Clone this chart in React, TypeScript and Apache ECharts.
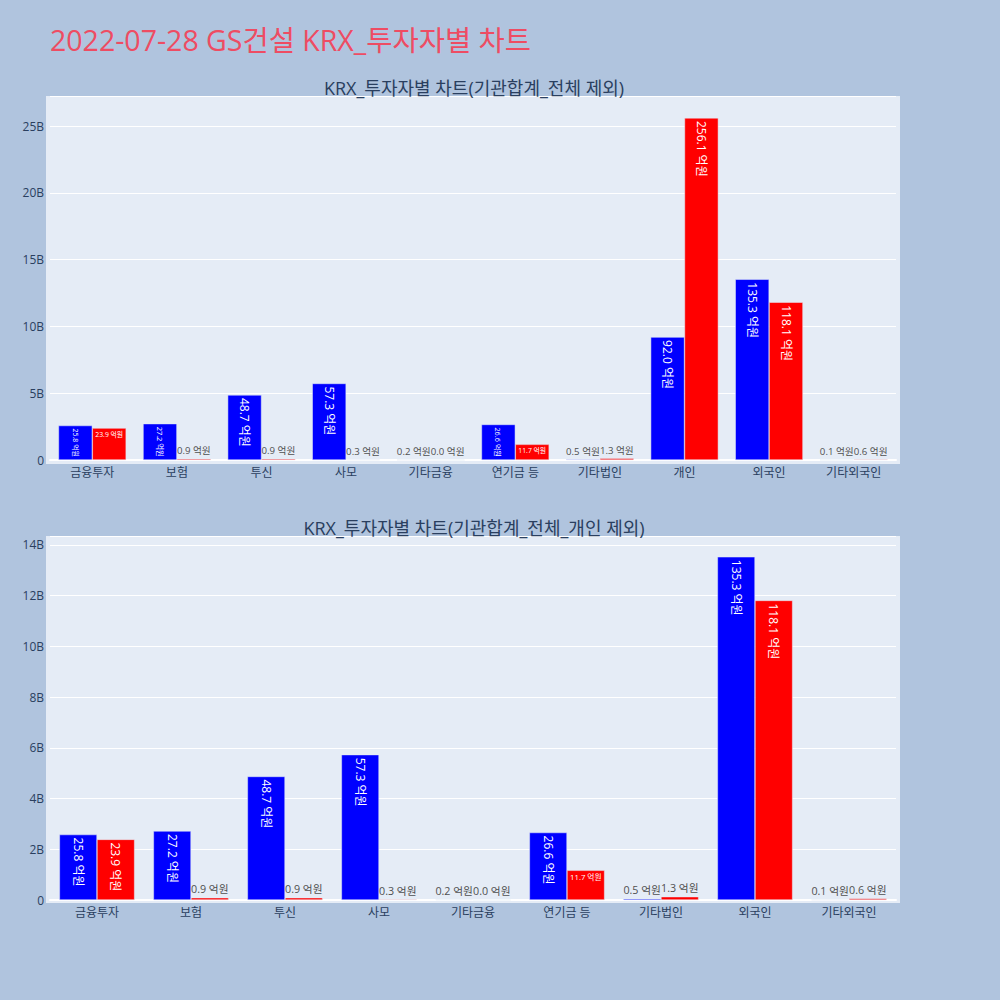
import React, { useEffect, useRef } from "react";
import * as echarts from "echarts";

const TITLE = "2022-07-28 GS건설 KRX_투자자별 차트";
const SUBTITLE_TOP = "KRX_투자자별 차트(기관합계_전체 제외)";
const SUBTITLE_BOTTOM = "KRX_투자자별 차트(기관합계_전체_개인 제외)";

const categoriesTop = ["금융투자", "보험", "투신", "사모", "기타금융", "연기금 등", "기타법인", "개인", "외국인", "기타외국인"];
const blueTop = [25.8, 27.2, 48.7, 57.3, 0.2, 26.6, 0.5, 92.0, 135.3, 0.1];
const redTop = [23.9, 0.9, 0.9, 0.3, 0.0, 11.7, 1.3, 256.1, 118.1, 0.6];

const categoriesBottom = ["금융투자", "보험", "투신", "사모", "기타금융", "연기금 등", "기타법인", "외국인", "기타외국인"];
const blueBottom = [25.8, 27.2, 48.7, 57.3, 0.2, 26.6, 0.5, 135.3, 0.1];
const redBottom = [23.9, 0.9, 0.9, 0.3, 0.0, 11.7, 1.3, 118.1, 0.6];

// y axis ticks in 억원 (1B = 10억)
const topTickStep = 50;
const bottomTickStep = 20;

const FONT = '"Open Sans", "Noto Sans CJK KR", sans-serif';
const TEXT_COLOR = "#2a3f5f";

// layout
const X0 = 50;
const X1 = 896;
const TOP_GRID = { top: 96, bottom: 460, max: 272.5 };
const BOT_GRID = { top: 536, bottom: 900, max: 143.5 };

let measureCtx: CanvasRenderingContext2D | null = null;
function textWidth(t: string, size: number) {
  if (!measureCtx) {
    const c = document.createElement("canvas");
    measureCtx = c.getContext("2d");
  }
  if (!measureCtx) return t.length * size * 0.6;
  measureCtx.font = `${size}px ${FONT}`;
  return measureCtx.measureText(t).width;
}

function fmt(v: number) {
  return `${v.toFixed(1)} 억원`;
}

function buildData(values: number[], nCat: number, grid: { top: number; bottom: number; max: number }) {
  const catW = (X1 - X0) / nCat;
  const barW = catW * 0.4;
  const pxPer = (grid.bottom - grid.top) / grid.max;
  return values.map((v) => {
    const text = fmt(v);
    const tw = textWidth(text, 12);
    const th = 13;
    const barH = v * pxPer;
    const pad = 3;
    if (barH < 10) {
      const fs = 12 * Math.min(1, barW / tw);
      return {
        value: v,
        label: {
          show: true,
          position: "top",
          distance: 3,
          fontSize: fs,
          color: "#505050",
          fontFamily: FONT,
          formatter: text,
        },
      };
    }
    const aw = barW - 2 * pad;
    const ah = barH - 2 * pad;
    const sH = Math.min(aw / tw, ah / th);
    const sR = Math.min(aw / th, ah / tw);
    const rotated = sR > sH;
    const s = Math.min(1, Math.max(sH, sR));
    const fs = 12 * s;
    if (rotated) {
      return {
        value: v,
        label: {
          show: true,
          position: "insideTop",
          distance: pad,
          rotate: -90,
          align: "left",
          verticalAlign: "middle",
          fontSize: fs,
          color: "#ffffff",
          fontFamily: FONT,
          formatter: text,
        },
      };
    }
    return {
      value: v,
      label: {
        show: true,
        position: "insideTop",
        distance: pad,
        fontSize: fs,
        color: "#ffffff",
        fontFamily: FONT,
        formatter: text,
      },
    };
  });
}

export default function App() {
  const ref = useRef<HTMLDivElement>(null);
  useEffect(() => {
    if (!ref.current) return;
    const chart = echarts.init(ref.current, undefined, { renderer: "svg" });
    const yAxisCommon = {
      type: "value",
      min: 0,
      axisLine: { show: false },
      axisTick: { show: false },
      splitLine: { show: true, lineStyle: { color: "#ffffff", width: 1 } },
      axisLabel: {
        color: TEXT_COLOR,
        fontSize: 12,
        fontFamily: FONT,
        margin: 6,
        showMaxLabel: false,
        formatter: (v: number) => (v === 0 ? "0" : `${v / 10}B`),
      },
    };
    const xAxisCommon = {
      type: "category",
      axisTick: { show: false },
      axisLine: { show: true, lineStyle: { color: "#ffffff", width: 2 } },
      axisLabel: { color: TEXT_COLOR, fontSize: 12, fontFamily: FONT, margin: 6, interval: 0 },
    };
    const barCommon = {
      type: "bar",
      barCategoryGap: "20%",
      barGap: "0%",
      itemStyle: { borderColor: "#E5ECF6", borderWidth: 0.5 },
    };
    chart.setOption({
      animation: false,
      backgroundColor: "#B0C4DE",
      textStyle: { fontFamily: FONT },
      title: [
        {
          text: TITLE,
          left: 50,
          top: 26,
          padding: 0,
          textStyle: { color: "#EE4C63", fontSize: 28.5, fontWeight: "normal", fontFamily: FONT },
        },
        {
          text: SUBTITLE_TOP,
          left: 474,
          top: 79,
          padding: 0,
          textAlign: "center",
          textStyle: { color: TEXT_COLOR, fontSize: 18, fontWeight: "normal", fontFamily: FONT },
        },
        {
          text: SUBTITLE_BOTTOM,
          left: 474,
          top: 519,
          padding: 0,
          textAlign: "center",
          textStyle: { color: TEXT_COLOR, fontSize: 18, fontWeight: "normal", fontFamily: FONT },
        },
      ],
      graphic: [
        { type: "rect", z: -10, shape: { x: 46, y: 96, width: 854, height: 368 }, style: { fill: "#E5ECF6" } },
        { type: "rect", z: -10, shape: { x: 46, y: 536, width: 854, height: 367 }, style: { fill: "#E5ECF6" } },
      ],
      grid: [
        { left: X0, right: 1000 - X1, top: TOP_GRID.top, height: TOP_GRID.bottom - TOP_GRID.top },
        { left: X0, right: 1000 - X1, top: BOT_GRID.top, height: BOT_GRID.bottom - BOT_GRID.top },
      ],
      xAxis: [
        { ...xAxisCommon, gridIndex: 0, data: categoriesTop },
        { ...xAxisCommon, gridIndex: 1, data: categoriesBottom },
      ],
      yAxis: [
        { ...yAxisCommon, gridIndex: 0, max: TOP_GRID.max, interval: topTickStep },
        { ...yAxisCommon, gridIndex: 1, max: BOT_GRID.max, interval: bottomTickStep },
      ],
      series: [
        {
          ...barCommon,
          name: "blue",
          xAxisIndex: 0,
          yAxisIndex: 0,
          itemStyle: { ...barCommon.itemStyle, color: "#0000FF" },
          data: buildData(blueTop, categoriesTop.length, TOP_GRID),
        },
        {
          ...barCommon,
          name: "red",
          xAxisIndex: 0,
          yAxisIndex: 0,
          itemStyle: { ...barCommon.itemStyle, color: "#FF0000" },
          data: buildData(redTop, categoriesTop.length, TOP_GRID),
        },
        {
          ...barCommon,
          name: "blue",
          xAxisIndex: 1,
          yAxisIndex: 1,
          itemStyle: { ...barCommon.itemStyle, color: "#0000FF" },
          data: buildData(blueBottom, categoriesBottom.length, BOT_GRID),
        },
        {
          ...barCommon,
          name: "red",
          xAxisIndex: 1,
          yAxisIndex: 1,
          itemStyle: { ...barCommon.itemStyle, color: "#FF0000" },
          data: buildData(redBottom, categoriesBottom.length, BOT_GRID),
        },
      ],
    });
    return () => chart.dispose();
  }, []);
  return <div ref={ref} style={{ position: "fixed", left: 0, top: 0, width: 1000, height: 1000 }} />;
}
